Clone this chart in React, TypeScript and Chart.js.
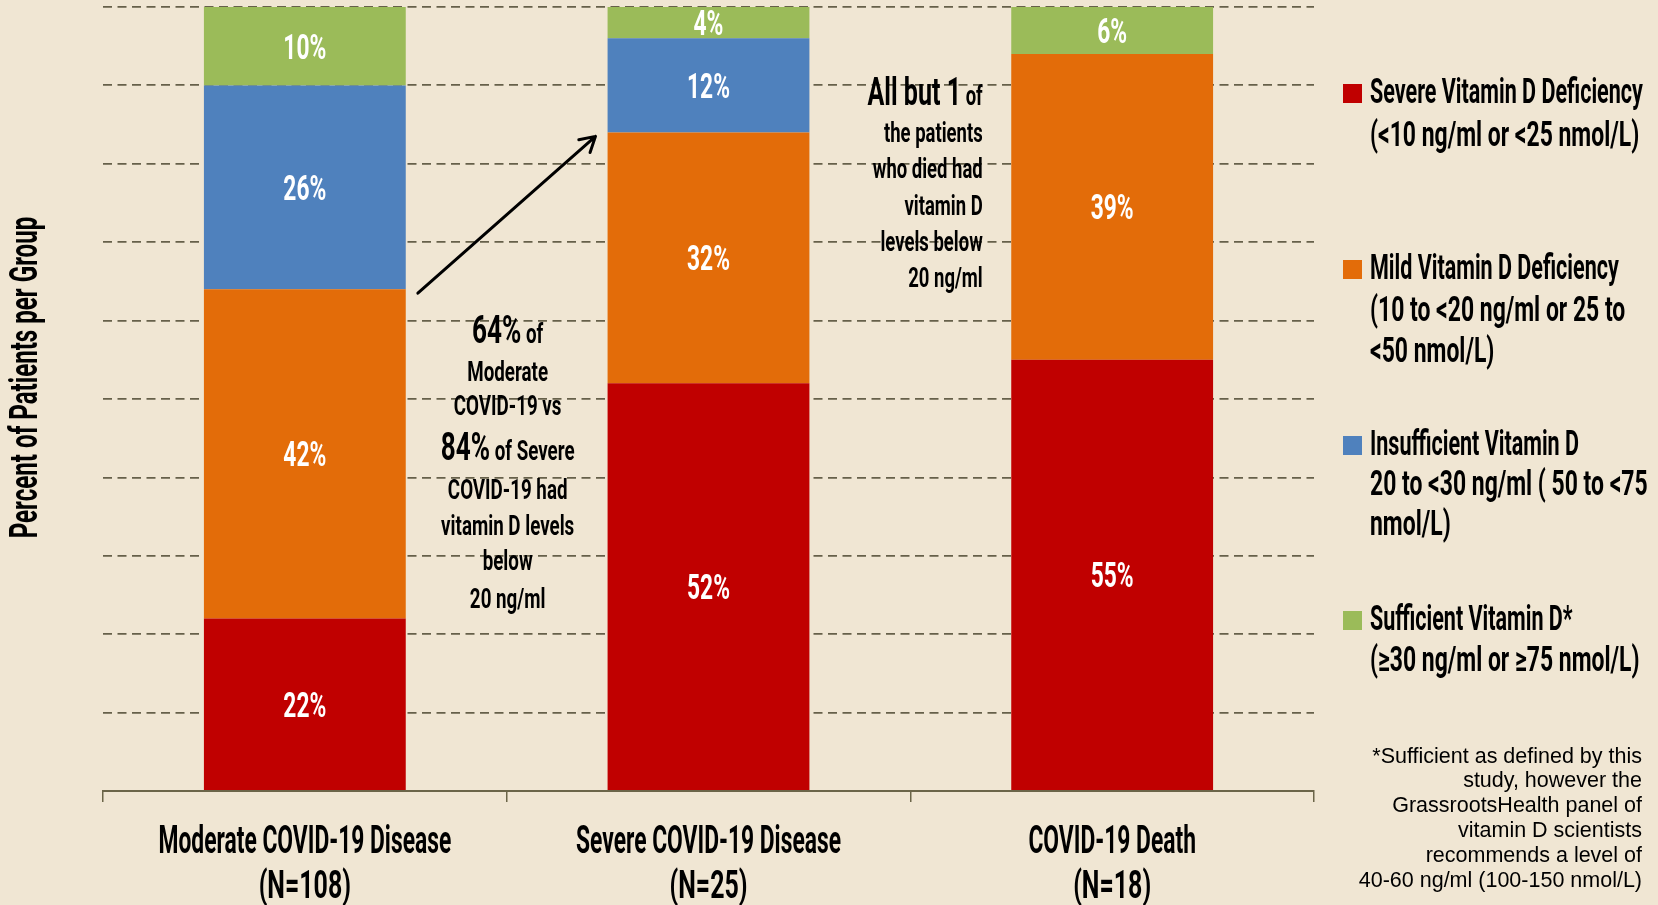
import React, { useEffect, useRef } from "react";
import { Chart, registerables } from "chart.js";

Chart.register(...registerables);

// ---------- DATA ----------
const categories = ["Moderate COVID-19 Disease", "Severe COVID-19 Disease", "COVID-19 Death"];
const categoryCounts = ["(N=108)", "(N=25)", "(N=18)"];

const seriesNames = [
  "Severe Vitamin D Deficiency",
  "Mild Vitamin D Deficiency",
  "Insufficient Vitamin D",
  "Sufficient Vitamin D*",
];
const severeValues = [22, 52, 55];
const mildValues = [42, 32, 39];
const insufficientValues = [26, 12, 0];
const sufficientValues = [10, 4, 6];

const yMin = 0;
const yMax = 100;
const yStep = 10;
const yTitle = "Percent of Patients per Group";

const legendLines = [
  ["Severe Vitamin D Deficiency", "(<10 ng/ml or <25 nmol/L)"],
  ["Mild Vitamin D Deficiency", "(10 to <20 ng/ml or 25 to", "<50 nmol/L)"],
  ["Insufficient Vitamin D", "20 to <30 ng/ml ( 50 to <75", "nmol/L)"],
  ["Sufficient Vitamin D*", "(\u226530 ng/ml or \u226575 nmol/L)"],
];

const footnoteLines = [
  "*Sufficient as defined by this",
  "study, however the",
  "GrassrootsHealth panel of",
  "vitamin D scientists",
  "recommends a level of",
  "40-60 ng/ml (100-150 nmol/L)",
];

// rich annotation lines: [text, isBig]
const noteModerateSevere: [string, boolean][][] = [
  [["64%", true], [" of", false]],
  [["Moderate", false]],
  [["COVID-19 vs", false]],
  [["84%", true], [" of Severe", false]],
  [["COVID-19 had", false]],
  [["vitamin D levels", false]],
  [["below", false]],
  [["20 ng/ml", false]],
];
const noteDeath: [string, boolean][][] = [
  [["All but 1", true], [" of", false]],
  [["the patients", false]],
  [["who died had", false]],
  [["vitamin D", false]],
  [["levels below", false]],
  [["20 ng/ml", false]],
];
// arrow from (category position, percent) to (category position, percent)
const arrowFrom = [0.28, 63.5];
const arrowTo = [0.72, 83.5];

// ---------- STYLE ----------
const BG = "#F0E6D3";
const COLORS = ["#C00000", "#E36C09", "#4F81BD", "#9BBB59"];
const GRID = "#66604A";
const AXIS = "#6B6549";
const COND = "Roboto, 'Liberation Sans', sans-serif";
const PLAIN = "'Liberation Sans', Arial, sans-serif";

function drawCond(
  ctx: CanvasRenderingContext2D,
  text: string,
  x: number,
  y: number,
  size: number,
  align: "left" | "center" | "right",
  sx: number,
  color = "#000"
) {
  ctx.save();
  ctx.font = `bold ${size}px ${COND}`;
  ctx.fillStyle = color;
  ctx.textBaseline = "alphabetic";
  ctx.textAlign = "left";
  const w = ctx.measureText(text).width * sx;
  const left = align === "center" ? x - w / 2 : align === "right" ? x - w : x;
  ctx.translate(left, y);
  ctx.scale(sx, 1);
  ctx.fillText(text, 0, 0);
  ctx.restore();
  return w;
}

function measureCond(ctx: CanvasRenderingContext2D, text: string, size: number, sx: number) {
  ctx.save();
  ctx.font = `bold ${size}px ${COND}`;
  const w = ctx.measureText(text).width * sx;
  ctx.restore();
  return w;
}

function drawRich(
  ctx: CanvasRenderingContext2D,
  segs: [string, boolean][],
  x: number,
  y: number,
  big: number,
  small: number,
  align: "center" | "right",
  sx: number
) {
  const widths = segs.map(([t, b]) => measureCond(ctx, t, b ? big : small, sx));
  const total = widths.reduce((a, b) => a + b, 0);
  let cx = align === "center" ? x - total / 2 : x - total;
  segs.forEach(([t, b], i) => {
    drawCond(ctx, t, cx, y, b ? big : small, "left", sx);
    cx += widths[i];
  });
}

const decorPlugin = {
  id: "decor",
  beforeDraw(chart: any) {
    const ctx = chart.ctx;
    ctx.save();
    ctx.fillStyle = BG;
    ctx.fillRect(0, 0, chart.width, chart.height);
    ctx.restore();
  },
  afterDatasetsDraw(chart: any) {
    const ctx: CanvasRenderingContext2D = chart.ctx;
    chart.data.datasets.forEach((ds: any, di: number) => {
      const meta = chart.getDatasetMeta(di);
      meta.data.forEach((bar: any, i: number) => {
        const v = ds.data[i];
        if (!v) return;
        const cy = (bar.y + bar.base) / 2;
        drawCond(ctx, `${v}%`, bar.x, cy + 12.5, 35, "center", 0.65, "#fff");
      });
    });
  },
  afterDraw(chart: any) {
    const ctx: CanvasRenderingContext2D = chart.ctx;
    const xs = chart.scales.x;
    const ys = chart.scales.y;

    // x category labels
    categories.forEach((c, i) => {
      const px = xs.getPixelForValue(i);
      drawCond(ctx, c, px, 852.7, 39, "center", 0.585);
      drawCond(ctx, categoryCounts[i], px, 898, 39, "center", 0.64);
    });

    // y title
    ctx.save();
    ctx.translate(37, 377.5);
    ctx.rotate(-Math.PI / 2);
    drawCond(ctx, yTitle, 0, 0, 38, "center", 0.635);
    ctx.restore();

    // legend
    const legendBaselines = [
      [103, 146],
      [279, 321, 362],
      [455, 495, 535],
      [630, 671],
    ];
    legendLines.forEach((lines, li) => {
      ctx.save();
      ctx.fillStyle = COLORS[li];
      ctx.fillRect(1343, legendBaselines[li][0] - 19, 19, 19);
      ctx.restore();
      lines.forEach((t, k) => {
        drawCond(ctx, t, 1370, legendBaselines[li][k], 35, "left", k === 0 ? 0.615 : 0.655);
      });
    });

    // footnote
    ctx.save();
    ctx.font = `21.5px ${PLAIN}`;
    ctx.fillStyle = "#000";
    ctx.textAlign = "right";
    ctx.textBaseline = "alphabetic";
    footnoteLines.forEach((t, i) => {
      ctx.fillText(t, 1642, 762.5 + i * 24.8);
    });
    ctx.restore();

    // annotation between moderate and severe
    const midX = (xs.getPixelForValue(0) + xs.getPixelForValue(1)) / 2 + 1;
    const note1Base = [342.8, 380.6, 415, 460, 499.4, 534.6, 570, 608];
    noteModerateSevere.forEach((segs, i) => {
      drawRich(ctx, segs, midX, note1Base[i], 39, 28, "center", 0.67);
    });

    // annotation next to death
    const note2Base = [105.3, 141.7, 178.3, 215, 250.7, 286.7];
    noteDeath.forEach((segs, i) => {
      drawRich(ctx, segs, 982.7, note2Base[i], 38, 28, "right", 0.66);
    });

    // arrow
    const step = xs.getPixelForValue(1) - xs.getPixelForValue(0);
    const x0 = xs.getPixelForValue(0);
    const ax1 = x0 + arrowFrom[0] * step;
    const ay1 = ys.getPixelForValue(arrowFrom[1]);
    const ax2 = x0 + arrowTo[0] * step;
    const ay2 = ys.getPixelForValue(arrowTo[1]);
    const ang = Math.atan2(ay2 - ay1, ax2 - ax1);
    ctx.save();
    ctx.strokeStyle = "#000";
    ctx.lineWidth = 3;
    ctx.lineCap = "round";
    ctx.lineJoin = "round";
    ctx.beginPath();
    ctx.moveTo(ax1, ay1);
    ctx.lineTo(ax2, ay2);
    const hl = 17;
    ctx.moveTo(ax2 - hl * Math.cos(ang - Math.PI / 6), ay2 - hl * Math.sin(ang - Math.PI / 6));
    ctx.lineTo(ax2, ay2);
    ctx.lineTo(ax2 - hl * Math.cos(ang + Math.PI / 6), ay2 - hl * Math.sin(ang + Math.PI / 6));
    ctx.stroke();
    ctx.restore();
  },
};

export default function App() {
  const canvasRef = useRef<HTMLCanvasElement | null>(null);

  useEffect(() => {
    document.body.style.margin = "0";
    document.body.style.background = BG;
    const canvas = canvasRef.current;
    if (!canvas) return;
    const valueSets = [severeValues, mildValues, insufficientValues, sufficientValues];
    const chart = new Chart(canvas, {
      type: "bar",
      data: {
        labels: categories,
        datasets: valueSets.map((vals, i) => ({
          label: seriesNames[i],
          data: vals,
          backgroundColor: COLORS[i],
          borderWidth: 0,
          barPercentage: 0.5,
          categoryPercentage: 1.0,
        })),
      },
      options: {
        responsive: false,
        animation: false,
        devicePixelRatio: 1,
        layout: { padding: { left: 0, right: 344, top: 7, bottom: 0 } },
        plugins: {
          legend: { display: false },
          tooltip: { enabled: false },
        },
        scales: {
          x: {
            stacked: true,
            offset: true,
            ticks: { display: false },
            grid: {
              display: true,
              offset: true,
              drawOnChartArea: false,
              drawTicks: true,
              tickLength: 11,
              color: AXIS,
              lineWidth: 1.5,
            },
            border: { display: true, color: AXIS, width: 2 },
            afterFit: (s: any) => {
              s.height = 114;
            },
          },
          y: {
            stacked: true,
            min: yMin,
            max: yMax,
            ticks: { display: false, stepSize: yStep },
            grid: { color: GRID, lineWidth: 1.8, drawTicks: false },
            border: { display: false, dash: [9, 5.5] },
            afterFit: (s: any) => {
              s.width = 103;
            },
          },
        },
      },
      plugins: [decorPlugin],
    } as any);
    return () => chart.destroy();
  }, []);

  return (
    <canvas
      ref={canvasRef}
      width={1658}
      height={905}
      style={{ display: "block", width: 1658, height: 905 }}
    />
  );
}
